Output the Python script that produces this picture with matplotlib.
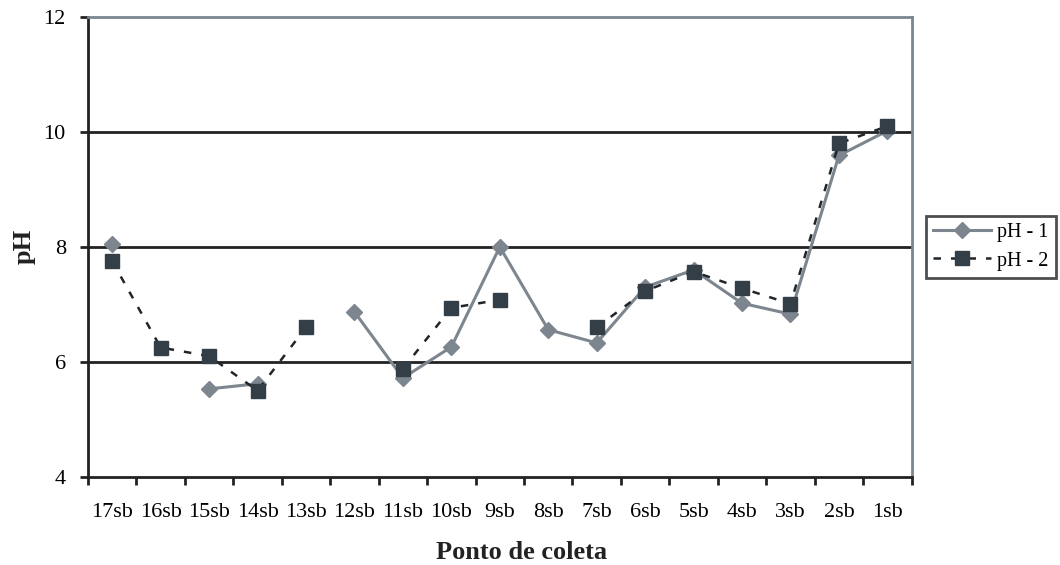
import numpy as np
import matplotlib
matplotlib.use("Agg")
import matplotlib.pyplot as plt

plt.rcParams['font.family'] = ['Liberation Serif', 'DejaVu Serif']

pontos = ['17sb', '16sb', '15sb', '14sb', '13sb', '12sb', '11sb', '10sb', '9sb',
          '8sb', '7sb', '6sb', '5sb', '4sb', '3sb', '2sb', '1sb']
ph1 = [8.05, np.nan, 5.53, 5.62, np.nan, 6.87, 5.72, 6.26, 8.0,
       6.56, 6.33, 7.3, 7.6, 7.02, 6.83, 9.59, 10.02]
ph2 = [7.75, 6.25, 6.1, 5.5, 6.6, np.nan, 5.88, 6.94, 7.08,
       np.nan, 6.6, 7.23, 7.57, 7.28, 7.01, 9.8, 10.1]

cinza = '#7d868e'
escuro = '#333e46'

fig = plt.figure(figsize=(10.6, 5.65), dpi=100)
ax = fig.add_axes([0.083, 0.156, 0.777, 0.814])

x = np.arange(len(pontos))
ax.plot(x, ph1, color=cinza, lw=2.2, marker='D', ms=8, mfc=cinza, mec=cinza,
        label='pH - 1', zorder=3)
ax.plot(x, ph2, color='#1f262b', lw=1.8, ls=(0, (3, 4)), marker='s', ms=10,
        mfc=escuro, mec=escuro, label='pH - 2', zorder=4)

ax.set_ylim(4, 12)
ax.set_xlim(-0.5, len(pontos) - 0.5)
ax.set_yticks([4, 6, 8, 10, 12])
ax.set_xticks(x)
ax.set_xticklabels(pontos)
ax.set_xticks(np.arange(-0.5, len(pontos)), minor=True)
ax.tick_params(axis='x', which='major', length=0, pad=19, labelsize=16)
ax.tick_params(axis='x', which='minor', length=6, width=2, direction='out', color='#222')
ax.tick_params(axis='y', length=6, width=2, direction='out', color='#222', labelsize=16, pad=10)

for v in [6, 8, 10]:
    ax.axhline(v, color='#222', lw=2, zorder=1)

ax.spines['left'].set_color('#222')
ax.spines['left'].set_linewidth(2)
ax.spines['bottom'].set_color('#222')
ax.spines['bottom'].set_linewidth(2)
ax.spines['top'].set_color(cinza)
ax.spines['top'].set_linewidth(2)
ax.spines['right'].set_color(cinza)
ax.spines['right'].set_linewidth(2)

# rotulos dos eixos posicionados a mao
fig.text(0.4925, 0.023, 'Ponto de coleta', fontsize=19, fontweight='bold',
         ha='center', va='center', color='#222')
fig.text(0.023, 0.564, 'pH', fontsize=19, fontweight='bold', rotation=90,
         ha='center', va='center', color='#222')

leg = ax.legend(loc='center left', bbox_to_anchor=(1.017, 0.5), fontsize=14.5,
                frameon=True, fancybox=False, edgecolor='#222', handlelength=2.9,
                borderpad=0.35, labelspacing=0.45, handletextpad=0.3, borderaxespad=0)
leg.get_frame().set_linewidth(2)

fig.savefig('out.png', dpi=100)
